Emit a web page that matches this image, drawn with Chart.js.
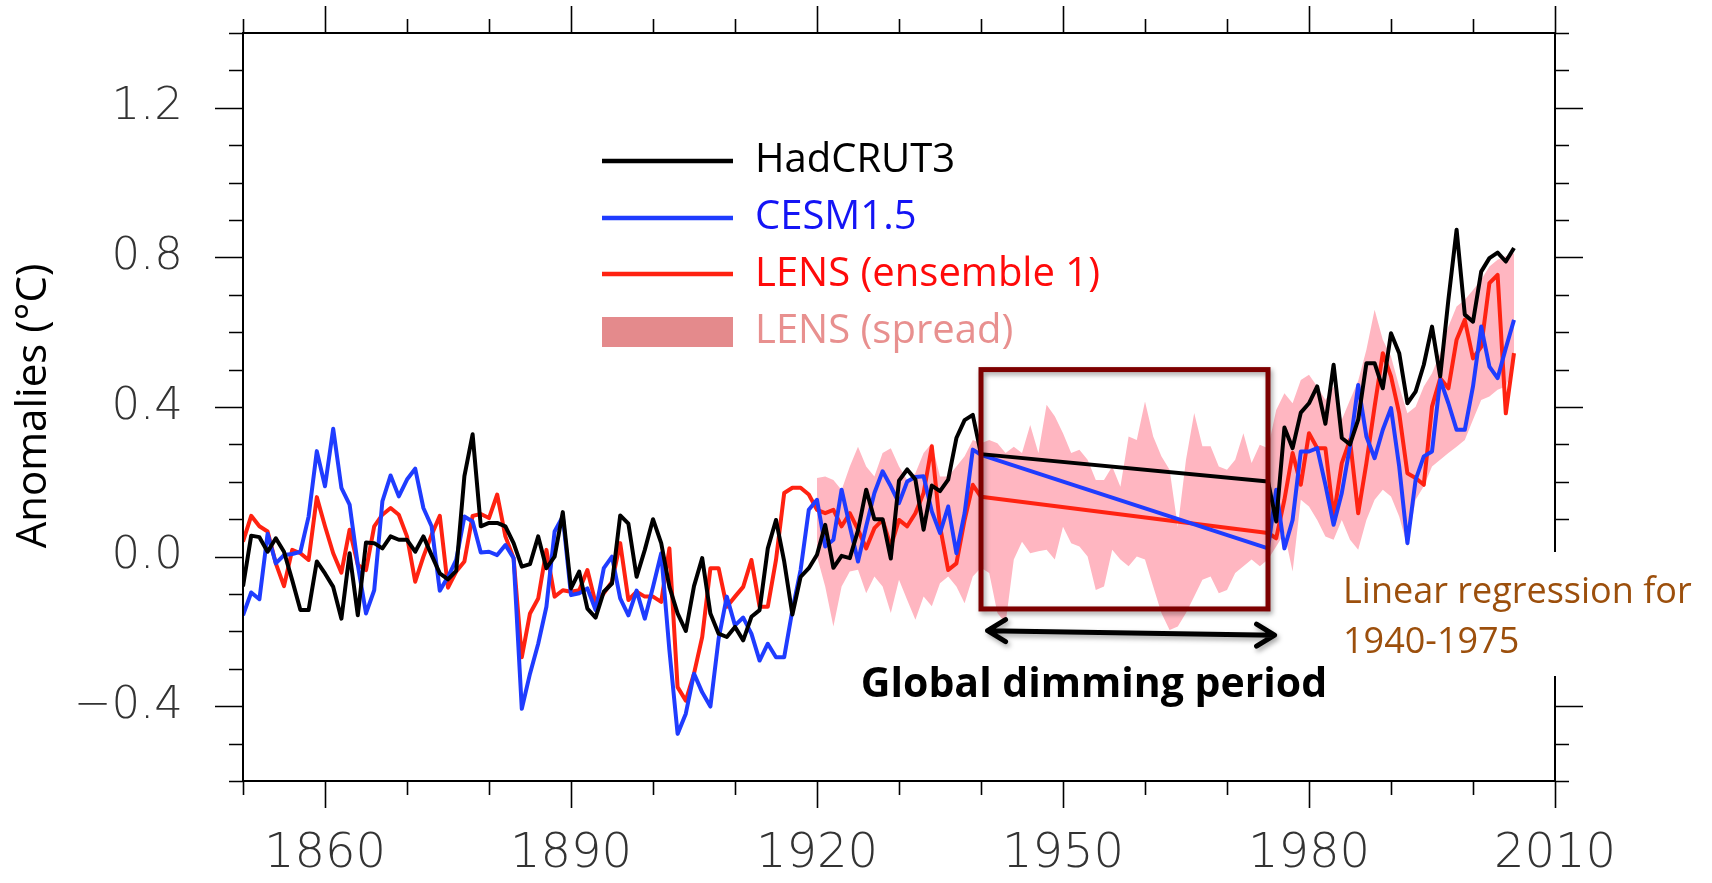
<!DOCTYPE html>
<html>
<head>
<meta charset="utf-8">
<script src="https://cdn.jsdelivr.net/npm/chart.js@4.4.1/dist/chart.umd.min.js"></script>
<style>
  html, body { margin: 0; padding: 0; background: #fff; }
</style>
</head>
<body>
<canvas id="anomChart" width="1712" height="883"></canvas>
<script>
// annual anomalies (degC), 1850-1940 and 1975-2005; 1941-1974 is replaced by the regression
const earlyStart = 1850;
const lateStart = 1975;

const hadEarly = [
  -0.080, 0.056, 0.052, 0.013, 0.049, 0.013, -0.063, -0.143, -0.143, -0.013,
  -0.045, -0.081, -0.166, 0.009, -0.157, 0.038, 0.036, 0.022, 0.054, 0.045,
  0.045, 0.013, 0.054, 0.004, -0.045, -0.061, -0.038, 0.215, 0.327, 0.081,
  0.090, 0.090, 0.081, 0.036, -0.027, -0.020, 0.054, -0.031, 0.000, 0.119,
  -0.085, -0.040, -0.139, -0.163, -0.094, -0.072, 0.110, 0.088, -0.054, 0.018,
  0.100, 0.036, -0.081, -0.152, -0.199, -0.079, -0.004, -0.152, -0.206, -0.215,
  -0.188, -0.224, -0.161, -0.143, 0.022, 0.098, -0.013, -0.155, -0.054, -0.031,
  0.005, 0.085, -0.030, 0.002, -0.004, 0.070, 0.179, 0.100, 0.100, -0.005,
  0.203, 0.233, 0.206, 0.072, 0.190, 0.175, 0.206, 0.317, 0.365, 0.379,
  0.274
];
const hadLate = [
  0.201, 0.094, 0.345, 0.290, 0.385, 0.410, 0.455, 0.355, 0.513, 0.317,
  0.300, 0.366, 0.517, 0.517, 0.450, 0.597, 0.544, 0.410, 0.441, 0.513,
  0.615, 0.482, 0.687, 0.874, 0.647, 0.628, 0.762, 0.798, 0.813, 0.789,
  0.825
];

const cesmEarly = [
  -0.157, -0.096, -0.114, 0.061, -0.018, 0.004, 0.007, 0.013, 0.107, 0.282,
  0.188, 0.342, 0.184, 0.139, -0.022, -0.152, -0.090, 0.148, 0.217, 0.161,
  0.206, 0.235, 0.130, 0.081, -0.091, -0.054, -0.009, 0.107, 0.094, 0.011,
  0.013, 0.004, 0.031, -0.004, -0.407, -0.313, -0.233, -0.134, 0.067, 0.107,
  -0.103, -0.098, -0.085, -0.143, -0.031, 0.000, -0.112, -0.157, -0.091, -0.166,
  -0.081, 0.009, -0.250, -0.474, -0.420, -0.313, -0.363, -0.401, -0.220, -0.107,
  -0.184, -0.163, -0.206, -0.278, -0.233, -0.269, -0.269, -0.143, -0.036, 0.125,
  0.152, 0.027, 0.045, 0.179, 0.081, -0.013, 0.081, 0.170, 0.228, 0.188,
  0.143, 0.201, 0.213, 0.215, 0.121, 0.063, 0.134, 0.009, 0.116, 0.286,
  0.272
];
const cesmLate = [
  0.022, 0.179, 0.022, 0.098, 0.281, 0.281, 0.290, 0.192, 0.085, 0.170,
  0.295, 0.459, 0.321, 0.263, 0.339, 0.397, 0.241, 0.036, 0.205, 0.268,
  0.281, 0.473, 0.410, 0.339, 0.339, 0.455, 0.615, 0.508, 0.477, 0.557,
  0.633
];

const lensEarly = [
  0.040, 0.109, 0.081, 0.067, -0.018, -0.079, 0.018, 0.009, -0.009, 0.159,
  0.081, 0.009, -0.043, 0.072, -0.022, -0.036, 0.081, 0.112, 0.130, 0.112,
  0.054, -0.067, 0.000, 0.058, 0.109, -0.083, -0.040, -0.013, 0.109, 0.114,
  0.103, 0.166, 0.054, -0.004, -0.269, -0.152, -0.112, 0.018, -0.107, -0.090,
  -0.094, -0.090, -0.036, -0.125, -0.098, -0.067, 0.036, -0.116, -0.094, -0.107,
  -0.107, -0.121, 0.022, -0.349, -0.385, -0.313, -0.215, -0.031, -0.031, -0.134,
  -0.107, -0.081, -0.009, -0.134, -0.134, -0.009, 0.170, 0.184, 0.184, 0.166,
  0.125, 0.116, 0.125, 0.081, 0.116, 0.072, 0.022, 0.076, 0.098, 0.027,
  0.098, 0.081, 0.116, 0.170, 0.295, 0.081, -0.036, -0.018, 0.098, 0.192,
  0.160
];
const lensLate = [
  0.063, 0.049, 0.152, 0.277, 0.192, 0.330, 0.290, 0.290, 0.107, 0.250,
  0.312, 0.116, 0.250, 0.401, 0.544, 0.482, 0.383, 0.223, 0.210, 0.192,
  0.401, 0.477, 0.450, 0.580, 0.633, 0.530, 0.561, 0.731, 0.753, 0.383,
  0.544
];

// LENS ensemble spread, 1920-2005
const spreadStart = 1920;
const spreadHigh = [
  0.210, 0.214, 0.205, 0.178, 0.241, 0.294, 0.241, 0.214, 0.277, 0.290,
  0.241, 0.205, 0.223, 0.277, 0.303, 0.214, 0.214, 0.241, 0.268, 0.312,
  0.303, 0.312, 0.303, 0.277, 0.294, 0.277, 0.352, 0.277, 0.406, 0.375,
  0.330, 0.277, 0.286, 0.259, 0.205, 0.205, 0.241, 0.187, 0.321, 0.312,
  0.415, 0.321, 0.268, 0.232, 0.080, 0.259, 0.384, 0.295, 0.295, 0.241,
  0.232, 0.259, 0.330, 0.250, 0.299, 0.290, 0.392, 0.437, 0.410, 0.472,
  0.486, 0.455, 0.419, 0.455, 0.366, 0.419, 0.470, 0.553, 0.660, 0.580,
  0.535, 0.455, 0.383, 0.401, 0.455, 0.490, 0.544, 0.615, 0.669, 0.687,
  0.713, 0.740, 0.776, 0.794, 0.803, 0.811
];
const spreadLow = [
  0.000, -0.080, -0.187, -0.080, -0.040, -0.035, -0.098, -0.053, -0.080, -0.151,
  -0.062, -0.116, -0.169, -0.107, -0.133, -0.071, -0.053, -0.080, -0.125, -0.053,
  -0.030, -0.044, -0.151, -0.178, -0.008, 0.040, 0.009, 0.014, 0.018, -0.008,
  0.080, 0.036, 0.027, 0.000, -0.089, -0.080, 0.018, -0.008, -0.026, 0.000,
  -0.008, -0.080, -0.151, -0.196, -0.187, -0.151, -0.107, -0.062, -0.053, -0.098,
  -0.089, -0.044, -0.026, -0.008, -0.026, -0.008, 0.027, 0.063, -0.040, 0.152,
  0.134, 0.098, 0.054, 0.045, 0.098, 0.045, 0.018, 0.098, 0.152, 0.179,
  0.161, 0.107, 0.027, 0.152, 0.188, 0.241, 0.259, 0.277, 0.294, 0.312,
  0.366, 0.419, 0.428, 0.446, 0.455, 0.508
];

// linear regression for 1940-1975 (end points)
const regYears = [1940, 1975];
const hadReg = [0.274, 0.201];
const cesmReg = [0.272, 0.022];
const lensReg = [0.160, 0.063];

// axes
const xMajor = [1860, 1890, 1920, 1950, 1980, 2010];
const xMinor = [1850, 1870, 1880, 1900, 1910, 1930, 1940, 1960, 1970, 1990, 2000];
const yMajor = [-0.4, 0.0, 0.4, 0.8, 1.2];
const yMinor = [-0.6, -0.5, -0.3, -0.2, -0.1, 0.1, 0.2, 0.3, 0.5, 0.6, 0.7, 0.9, 1.0, 1.1, 1.3, 1.4];

// dimming period annotation (data coordinates)
const dimYears = [1940, 1975];
const dimRange = [-0.14, 0.5];
const arrowYears = [1940.8, 1975.8];
const arrowLevel = [-0.198, -0.21];

const BLACK = '#000000';
const BLUE = '#1f3cff';
const RED = '#ff2211';
const PINK = 'rgb(255,182,193)';

function toPoints(start, vals) {
  return vals.map((v, i) => ({ x: start + i, y: v }));
}
function withGap(early, late) {
  return [...toPoints(earlyStart, early), { x: 1957, y: null }, ...toPoints(lateStart, late)];
}
function regPoints(vals) {
  return regYears.map((yr, i) => ({ x: yr, y: vals[i] }));
}
function line(data, color) {
  return {
    data, borderColor: color, borderWidth: 4, borderJoinStyle: 'round',
    pointRadius: 0, tension: 0, fill: false, spanGaps: false
  };
}

const framePlugin = {
  id: 'frame',
  afterDatasetsDraw(chart) {
    const { ctx, chartArea: a, scales: { x, y } } = chart;
    ctx.save();
    ctx.strokeStyle = '#000';
    ctx.lineWidth = 2;
    ctx.strokeRect(a.left, a.top, a.right - a.left, a.bottom - a.top);
    ctx.lineWidth = 1.6;
    ctx.beginPath();
    const xt = (v, len) => {
      const px = Math.round(x.getPixelForValue(v)) + 0.5;
      ctx.moveTo(px, a.bottom); ctx.lineTo(px, a.bottom + len);
      ctx.moveTo(px, a.top); ctx.lineTo(px, a.top - len);
    };
    const yt = (v, len) => {
      const py = Math.round(y.getPixelForValue(v)) + 0.5;
      ctx.moveTo(a.left, py); ctx.lineTo(a.left - len, py);
      ctx.moveTo(a.right, py); ctx.lineTo(a.right + len, py);
    };
    xMajor.forEach(v => xt(v, 27));
    xMinor.forEach(v => xt(v, 14));
    yMajor.forEach(v => yt(v, 28));
    yMinor.forEach(v => yt(v, 14));
    ctx.stroke();
    ctx.restore();
  }
};

const notesPlugin = {
  id: 'notes',
  afterDraw(chart) {
    const { ctx, scales: { x, y } } = chart;
    ctx.save();

    // y axis title
    ctx.save();
    ctx.translate(46, 406);
    ctx.rotate(-Math.PI / 2);
    ctx.fillStyle = '#000';
    ctx.font = '42px "Open Sans"';
    ctx.textAlign = 'center';
    ctx.textBaseline = 'alphabetic';
    ctx.fillText('Anomalies (\u00B0C)', 0, 0);
    ctx.restore();

    // dimming box
    const bx0 = x.getPixelForValue(dimYears[0]);
    const bx1 = x.getPixelForValue(dimYears[1]);
    const by0 = y.getPixelForValue(dimRange[1]);
    const by1 = y.getPixelForValue(dimRange[0]);
    ctx.save();
    ctx.shadowColor = 'rgba(0,0,0,0.35)';
    ctx.shadowBlur = 5;
    ctx.shadowOffsetX = 2;
    ctx.shadowOffsetY = 3;
    ctx.strokeStyle = '#7d0000';
    ctx.lineWidth = 5;
    ctx.strokeRect(bx0, by0, bx1 - bx0, by1 - by0);

    // double arrow
    const ax0 = x.getPixelForValue(arrowYears[0]);
    const ax1 = x.getPixelForValue(arrowYears[1]);
    const ay0 = y.getPixelForValue(arrowLevel[0]);
    const ay1 = y.getPixelForValue(arrowLevel[1]);
    ctx.strokeStyle = '#000';
    ctx.lineWidth = 5;
    ctx.lineCap = 'round';
    ctx.lineJoin = 'round';
    ctx.beginPath();
    ctx.moveTo(ax0, ay0); ctx.lineTo(ax1, ay1);
    ctx.moveTo(ax0 + 18, ay0 - 11); ctx.lineTo(ax0, ay0); ctx.lineTo(ax0 + 18, ay0 + 11);
    ctx.moveTo(ax1 - 18, ay1 - 11); ctx.lineTo(ax1, ay1); ctx.lineTo(ax1 - 18, ay1 + 11);
    ctx.stroke();
    ctx.restore();

    ctx.fillStyle = '#000';
    ctx.font = 'bold 41px "Open Sans"';
    ctx.textAlign = 'center';
    ctx.textBaseline = 'alphabetic';
    ctx.fillText('Global dimming period', 1094, 697);

    // regression note (white backing covers the right axis)
    ctx.fillStyle = '#fff';
    ctx.fillRect(1335, 552, 377, 124);
    ctx.fillStyle = '#9c4f0c';
    ctx.font = '36px "Open Sans"';
    ctx.textAlign = 'left';
    ctx.fillText('Linear regression for', 1343, 603);
    ctx.fillText('1940-1975', 1343, 653);

    // legend
    const lx0 = 602, lx1 = 733, tx = 755;
    const rows = [
      { label: 'HadCRUT3', color: BLACK, text: BLACK, ly: 161, base: 172 },
      { label: 'CESM1.5', color: BLUE, text: '#1414f5', ly: 218, base: 229 },
      { label: 'LENS (ensemble 1)', color: RED, text: '#ff0a0a', ly: 274, base: 286 }
    ];
    ctx.font = '40px "Open Sans"';
    ctx.lineWidth = 4.5;
    ctx.lineCap = 'butt';
    rows.forEach(r => {
      ctx.strokeStyle = r.color;
      ctx.beginPath();
      ctx.moveTo(lx0, r.ly); ctx.lineTo(lx1, r.ly);
      ctx.stroke();
      ctx.fillStyle = r.text;
      ctx.fillText(r.label, tx, r.base);
    });
    ctx.fillStyle = '#e48a8c';
    ctx.fillRect(lx0, 317, lx1 - lx0, 30);
    ctx.fillStyle = '#e8908f';
    ctx.fillText('LENS (spread)', tx, 343);

    ctx.restore();
  }
};

const tickFontX = { family: '"DejaVu Sans"', size: 48, weight: 200 };
const tickFontY = { family: '"DejaVu Sans"', size: 45, weight: 200 };

new Chart(document.getElementById('anomChart'), {
  type: 'line',
  data: {
    datasets: [
      line(withGap(hadEarly, hadLate), BLACK),
      line(regPoints(hadReg), BLACK),
      line(withGap(cesmEarly, cesmLate), BLUE),
      line(regPoints(cesmReg), BLUE),
      line(withGap(lensEarly, lensLate), RED),
      line(regPoints(lensReg), RED),
      { data: toPoints(spreadStart, spreadLow), borderWidth: 0, pointRadius: 0, fill: false },
      { data: toPoints(spreadStart, spreadHigh), borderWidth: 0, pointRadius: 0, backgroundColor: PINK, fill: '-1' }
    ]
  },
  options: {
    responsive: false,
    animation: false,
    plugins: { legend: { display: false }, tooltip: { enabled: false } },
    layout: { padding: { top: 33, right: 157, left: 0, bottom: 0 } },
    scales: {
      x: {
        type: 'linear', min: 1850, max: 2010,
        grid: { display: false, drawTicks: false },
        border: { display: false },
        afterBuildTicks: s => { s.ticks = xMajor.map(v => ({ value: v })); },
        afterFit: s => { s.height = 102; s.paddingLeft = 0; s.paddingRight = 0; },
        ticks: { padding: 45, autoSkip: false, maxRotation: 0, color: '#333', font: tickFontX, callback: v => String(v) }
      },
      y: {
        type: 'linear', min: -0.6, max: 1.4,
        grid: { display: false, drawTicks: false },
        border: { display: false },
        afterBuildTicks: s => { s.ticks = yMajor.map(v => ({ value: v })); },
        afterFit: s => { s.width = 243; s.paddingTop = 0; s.paddingBottom = 0; },
        ticks: {
          padding: 60, autoSkip: false, color: '#333', font: tickFontY,
          callback: v => (v < 0 ? '\u2212' : '') + Math.abs(v).toFixed(1)
        }
      }
    }
  },
  plugins: [framePlugin, notesPlugin]
});
</script>
</body>
</html>
